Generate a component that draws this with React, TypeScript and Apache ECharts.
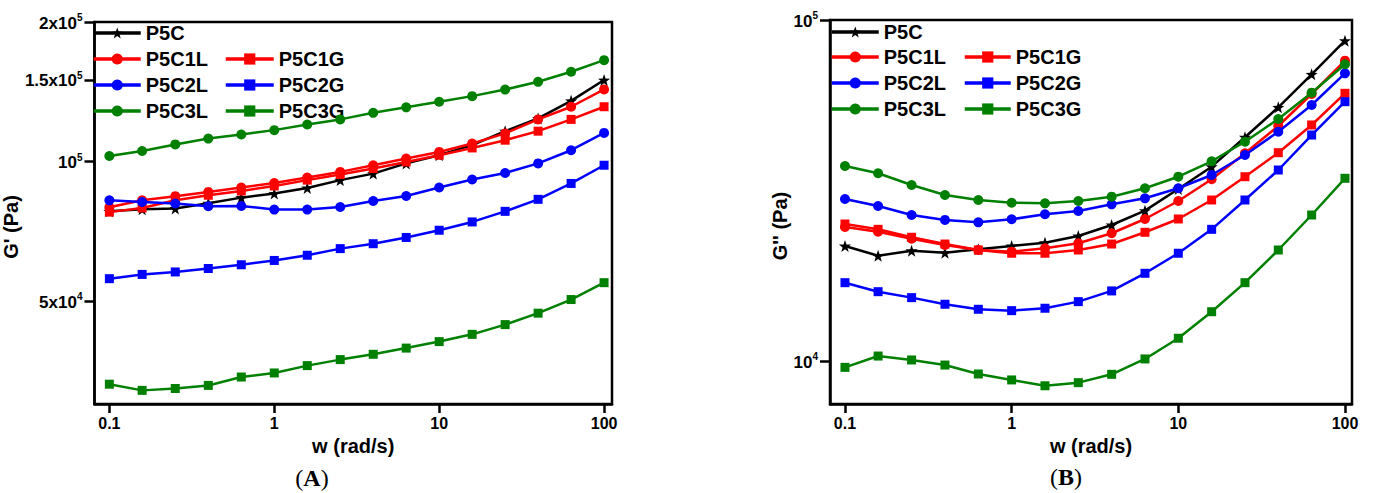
import React, { useEffect, useRef } from 'react';
import * as echarts from 'echarts';

// Angular frequency w (rad/s)
const freq = [0.1, 0.158, 0.251, 0.398, 0.631, 1, 1.585, 2.512, 3.981, 6.31, 10, 15.85, 25.12, 39.81, 63.1, 100];

const seriesNames = ['P5C', 'P5C1L', 'P5C1G', 'P5C2L', 'P5C2G', 'P5C3L', 'P5C3G'];

// (A) storage modulus G' (Pa)
const gA_P5C = [78100, 78900, 79200, 81300, 83600, 85300, 87700, 91200, 94200, 99100, 103200, 108500, 116300, 123900, 135200, 149900];
const gA_P5C1L = [79700, 82500, 84200, 86000, 87900, 89900, 92400, 95000, 98200, 101500, 104900, 109400, 115000, 123300, 131300, 143100];
const gA_P5C1G = [77800, 79400, 82500, 84600, 86400, 88600, 91200, 93800, 96600, 99800, 103200, 107000, 111200, 116300, 123300, 131300];
const gA_P5C2L = [82500, 81800, 81200, 80100, 80200, 78800, 78800, 79800, 82200, 84300, 87900, 91500, 94500, 99100, 105800, 115300];
const gA_P5C2G = [55900, 57100, 57800, 58800, 59900, 61200, 62800, 64900, 66500, 68600, 71100, 74100, 78100, 82900, 89700, 98200];
const gA_P5C3L = [102800, 105400, 108900, 112100, 114400, 116900, 120200, 123300, 127400, 130900, 134600, 138400, 143000, 148600, 156200, 165500];
const gA_P5C3G = [33100, 32100, 32400, 32900, 34300, 35000, 36300, 37400, 38400, 39600, 40900, 42400, 44500, 47100, 50400, 54800];

// (B) loss modulus G'' (Pa)
const gB_P5C = [21740, 20360, 21060, 20780, 21260, 21740, 22230, 23260, 25050, 27600, 31950, 37140, 45300, 55460, 69300, 86980];
const gB_P5C1L = [24720, 23940, 22840, 21890, 21160, 20920, 21400, 22140, 23690, 26090, 29460, 34110, 40650, 48890, 60670, 75980];
const gB_P5C1G = [25220, 24330, 23060, 22030, 21160, 20700, 20700, 21160, 22030, 23850, 26090, 29660, 34710, 40820, 49220, 60960];
const gB_P5C2L = [29860, 28480, 26800, 25920, 25510, 26040, 26930, 27540, 28810, 30000, 32100, 35110, 40190, 47030, 56330, 69770];
const gB_P5C2G = [16970, 15970, 15340, 14670, 14180, 14050, 14280, 14930, 16050, 18080, 20700, 24330, 29660, 36320, 45990, 57600];
const gB_P5C3L = [37320, 35520, 32820, 30680, 29660, 29120, 29000, 29460, 30330, 32100, 34710, 38520, 43970, 51240, 61210, 74150];
const gB_P5C3G = [9580, 10340, 10070, 9730, 9160, 8800, 8460, 8640, 9140, 10140, 11660, 13950, 16970, 21160, 26800, 34340];

// Tick values
const xTicks = [0.1, 1, 10, 100];
const yTicksA = [50000, 100000, 150000, 200000];
const yTicksB = [10000, 100000];

const dataA = [gA_P5C, gA_P5C1L, gA_P5C1G, gA_P5C2L, gA_P5C2G, gA_P5C3L, gA_P5C3G];
const dataB = [gB_P5C, gB_P5C1L, gB_P5C1G, gB_P5C2L, gB_P5C2G, gB_P5C3L, gB_P5C3G];

const FONT = '"Liberation Sans", Arial, Helvetica, sans-serif';
const SERIF = '"Liberation Serif", "Times New Roman", serif';
const STAR = 'path://M0,-10 L2.35,-3.24 9.51,-3.09 3.8,1.24 5.88,8.09 0,4 -5.88,8.09 -3.8,1.24 -9.51,-3.09 -2.35,-3.24 Z';
const colors = ['#000000', '#ff0000', '#ff0000', '#0000ff', '#0000ff', '#008000', '#008000'];
const symbols = [STAR, 'circle', 'rect', 'circle', 'rect', 'circle', 'rect'];
const symbolSizes = [12, 10, 9, 10, 9, 10, 9];

function fmtPow(v: number): string {
  const e = Math.floor(Math.log10(v) + 1e-9);
  const m = Math.round((v / Math.pow(10, e)) * 100) / 100;
  return m === 1 ? `{b|10}{s|${e}}` : `{b|${m}x10}{s|${e}}`;
}

const richY = {
  b: { fontFamily: FONT, fontSize: 17, fontWeight: 'bold', color: '#000', lineHeight: 19, verticalAlign: 'bottom' },
  s: { fontFamily: FONT, fontSize: 10, fontWeight: 'bold', color: '#000', lineHeight: 10, verticalAlign: 'top' },
};

const axisBase = {
  axisLine: { show: true, onZero: false, lineStyle: { color: '#000', width: 2.5 } },
  splitLine: { show: false },
  minorTick: { show: false },
  minorSplitLine: { show: false },
};

function mkX(gi: number, min: number, max: number) {
  return {
    ...axisBase,
    type: 'log',
    logBase: 10,
    gridIndex: gi,
    min,
    max,
    name: 'w (rad/s)',
    nameLocation: 'middle',
    nameGap: 32,
    nameTextStyle: { fontFamily: FONT, fontSize: 20, fontWeight: 'bold', color: '#000' },
    axisTick: { show: true, length: 9, customValues: xTicks, lineStyle: { color: '#000', width: 2.5 } },
    axisLabel: {
      customValues: xTicks,
      margin: 11,
      fontFamily: FONT,
      fontSize: 16,
      fontWeight: 'bold',
      color: '#000',
      formatter: (v: number) => String(Number(v.toPrecision(6))),
    },
  };
}

function mkY(gi: number, min: number, max: number, ticks: number[], name: string, gap: number) {
  return {
    ...axisBase,
    type: 'log',
    logBase: 10,
    gridIndex: gi,
    min,
    max,
    name,
    nameLocation: 'middle',
    nameGap: gap,
    nameTextStyle: { fontFamily: FONT, fontSize: 20, fontWeight: 'bold', color: '#000', padding: [0, 28, 0, 0] },
    axisTick: { show: true, length: 10, customValues: ticks, lineStyle: { color: '#000', width: 2.5 } },
    axisLabel: {
      customValues: ticks,
      margin: 12,
      formatter: (v: number) => fmtPow(v),
      rich: richY,
    },
  };
}

function mkSeries(gi: number, data: number[][]) {
  return seriesNames.map((name, i) => ({
    name,
    type: 'line',
    xAxisIndex: gi,
    yAxisIndex: gi,
    data: freq.map((f, k) => [f, data[i][k]]),
    symbol: symbols[i],
    symbolSize: symbolSizes[i],
    showSymbol: true,
    lineStyle: { color: colors[i], width: 2.5 },
    itemStyle: { color: colors[i] },
    z: 2 + i,
  }));
}

const legendText = { fontFamily: FONT, fontSize: 20, fontWeight: 'bold', color: '#000', lineHeight: 20 };

function mkLegend(data: string[], left: number, top: number, itemWidth: number) {
  return {
    data,
    left,
    top,
    orient: 'vertical',
    itemGap: 6,
    itemWidth,
    itemHeight: 14,
    padding: 0,
    selectedMode: false,
    textStyle: legendText,
    lineStyle: { width: 3.5 },
  };
}

function panelLabel(letter: string, x: number, y: number) {
  return {
    type: 'text',
    x,
    y,
    style: {
      text: `({a|${letter}})`,
      font: `24px ${SERIF}`,
      fill: '#000',
      align: 'center',
      verticalAlign: 'middle',
      rich: { a: { fontFamily: SERIF, fontSize: 24, fontWeight: 'bold', fill: '#000' } },
    },
  };
}

export default function App() {
  const ref = useRef<HTMLDivElement>(null);
  useEffect(() => {
    if (!ref.current) return;
    const chart = echarts.init(ref.current, undefined, { renderer: 'svg' });
    chart.setOption({
      animation: false,
      backgroundColor: '#fff',
      grid: [
        { left: 92, top: 22, width: 520, height: 382, show: true, borderColor: '#000', borderWidth: 2.5, backgroundColor: 'transparent' },
        { left: 830, top: 20, width: 522, height: 384, show: true, borderColor: '#000', borderWidth: 2.5, backgroundColor: 'transparent' },
      ],
      xAxis: [mkX(0, 0.0812, 111.7), mkX(1, 0.0813, 110.2)],
      yAxis: [
        mkY(0, 30000, 200000, yTicksA, "G' (Pa)", 58),
        mkY(1, 7480, 100000, yTicksB, "G'' (Pa)", 28),
      ],
      legend: [
        mkLegend(['P5C'], 92, 23, 47),
        mkLegend(['P5C1L', 'P5C2L', 'P5C3L'], 92, 49, 47),
        mkLegend(['P5C1G', 'P5C2G', 'P5C3G'], 224, 49, 48),
        mkLegend(['P5C'], 830, 22, 47),
        mkLegend(['P5C1L', 'P5C2L', 'P5C3L'], 830, 47, 47),
        mkLegend(['P5C1G', 'P5C2G', 'P5C3G'], 963, 47, 46),
      ],
      graphic: [panelLabel('A', 312, 478), panelLabel('B', 1066, 477)],
      series: [...mkSeries(0, dataA), ...mkSeries(1, dataB)],
    });
    return () => chart.dispose();
  }, []);
  return (
    <div
      ref={ref}
      style={{ position: 'fixed', left: 0, top: 0, width: 1373, height: 493, background: '#fff' }}
    />
  );
}
